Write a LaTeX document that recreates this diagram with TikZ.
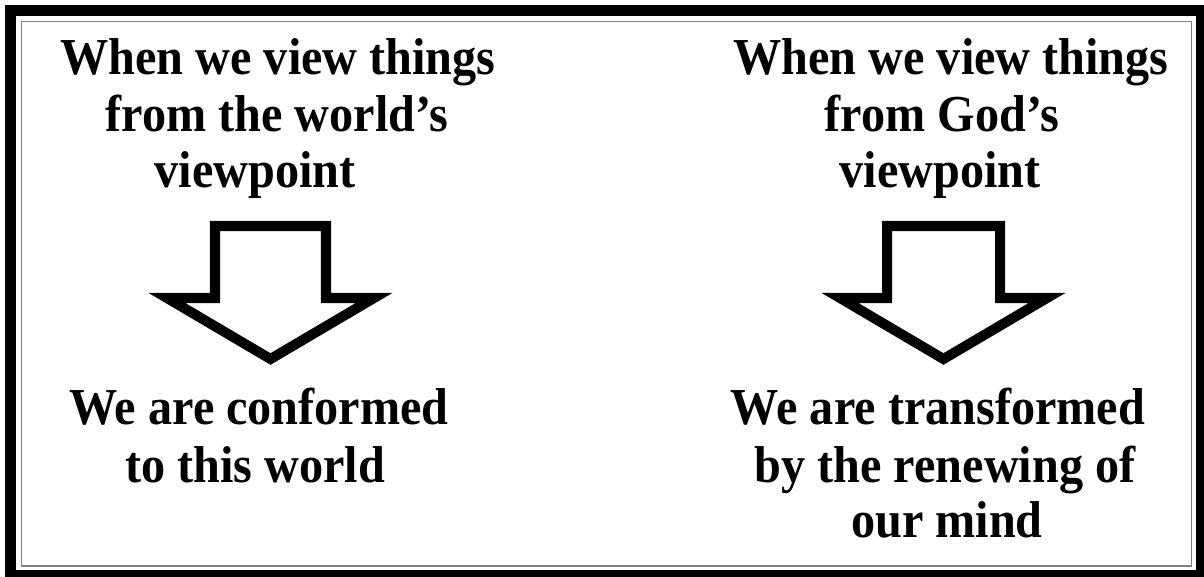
\documentclass[tikz,border=0pt]{standalone}
\usepackage{fontspec}
\setmainfont{Liberation Serif}[FakeStretch=0.93]

\definecolor{rulegray}{RGB}{128,128,128}

\tikzset{
  verse/.style={anchor=base, inner sep=0pt, font=\bfseries\fontsize{29.5}{34}\selectfont},
  blockarrow/.style={line width=5.7pt, miter limit=10, fill=white}
}

\begin{document}
\begin{tikzpicture}[x=0.02cm, y=-0.02cm]
  \useasboundingbox (0,0) rectangle (1204,577);

  % heavy frame, then the thin gray rule just inside it
  \fill[black] (5,5) rectangle (1204,577);
  \fill[white] (16,16) rectangle (1196,570);
  \draw[rulegray, line width=0.85pt] (21.5,21.5) rectangle (1191.5,566);

  % the world's side
  \node[verse] (worldA) at (278,75)  {When we view things};
  \node[verse] (worldB) at (277,132) {from the world’s};
  \node[verse] (worldC) at (255,188) {viewpoint};
  \draw[blockarrow] (215,226) -- (215,298) -- (167,298) -- (270.5,359)
    -- (374,298) -- (326,298) -- (326,226) -- cycle;
  \node[verse] (confA) at (259,425) {We are conformed};
  \node[verse] (confB) at (255,482) {to this world};

  % God's side
  \node[verse] (godA) at (951,75)  {When we view things};
  \node[verse] (godB) at (942,132) {from God’s};
  \node[verse] (godC) at (940,188) {viewpoint};
  \draw[blockarrow] (887,226) -- (887,298) -- (840,298) -- (943.5,359)
    -- (1047,298) -- (1000,298) -- (1000,226) -- cycle;
  \node[verse] (transA) at (938,425) {We are transformed};
  \node[verse] (transB) at (945,482) {by the renewing of};
  \node[verse] (transC) at (947,538) {our mind};

\end{tikzpicture}
\end{document}
